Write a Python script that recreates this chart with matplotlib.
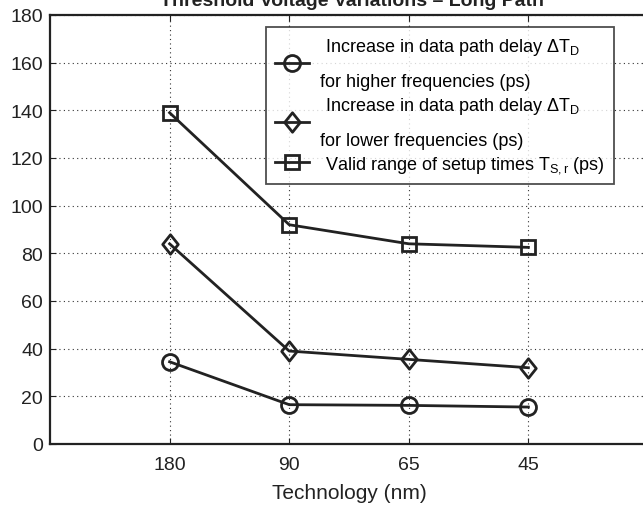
import matplotlib.pyplot as plt
from matplotlib.path import Path

plt.rcParams['font.family'] = ['Liberation Sans', 'DejaVu Sans']
plt.rcParams['mathtext.fontset'] = 'custom'
plt.rcParams['mathtext.rm'] = 'Liberation Sans'
plt.rcParams['mathtext.it'] = 'Liberation Sans'

# data
tech = ['180', '90', '65', '45']
delay_high = [34.5, 16.5, 16.2, 15.5]
delay_low = [84, 39, 35.5, 32]
setup_range = [139, 92, 84, 82.5]

labels = [
    ' Increase in data path delay $\\Delta$T$_\\mathregular{D}$\nfor higher frequencies (ps)',
    ' Increase in data path delay $\\Delta$T$_\\mathregular{D}$\nfor lower frequencies (ps)',
    ' Valid range of setup times T$_\\mathregular{S,r}$ (ps)',
]

# wider diamond like the matlab one
diamond = Path([(0, 1), (0.8, 0), (0, -1), (-0.8, 0), (0, 1)],
               [Path.MOVETO, Path.LINETO, Path.LINETO, Path.LINETO, Path.CLOSEPOLY])

fig = plt.figure(figsize=(6.43, 5.06), dpi=100)
ax = fig.add_axes([50 / 643, 1 - 445 / 506, 598 / 643, 429 / 506])

x = [1, 2, 3, 4]
col = '#222222'
kw = dict(color=col, lw=2.0, mew=2.0, mfc='none', mec=col)
ax.plot(x, delay_high, marker='o', ms=11.5, label=labels[0], **kw)
ax.plot(x, delay_low, marker=diamond, ms=14, label=labels[1], **kw)
ax.plot(x, setup_range, marker='s', ms=10, label=labels[2], **kw)

ax.set_xlim(0, 5)
ax.set_ylim(0, 180)
ax.set_xticks(x)
ax.set_xticklabels(tech)
ax.set_yticks(range(0, 181, 20))
ax.tick_params(labelsize=14, direction='in', top=True, right=True, length=4, colors=col)
ax.tick_params(axis='x', pad=9)
ax.tick_params(axis='y', pad=5)
ax.grid(True, linestyle=(0, (1, 3)), color='#333333', lw=0.8)
for s in ax.spines.values():
    s.set_linewidth(1.6)
    s.set_color(col)

ax.set_xlabel('Technology (nm)', fontsize=15, color=col, labelpad=7)

leg = ax.legend(loc='upper left', bbox_to_anchor=(216 / 598, 1 - 12 / 429),
                fontsize=13, frameon=True, fancybox=False, edgecolor=col,
                borderpad=0.5, labelspacing=0.3, handlelength=1.9,
                handletextpad=0.6, borderaxespad=0)
leg.get_frame().set_linewidth(1.3)
for t in leg.get_texts():
    t.set_linespacing(2.2)

fig.text(352 / 643, 1 - 6 / 506, 'Threshold Voltage Variations \u2013 Long Path',
         ha='center', va='baseline', fontsize=14, fontweight='bold', color=col)

fig.savefig('out.png', dpi=100)
